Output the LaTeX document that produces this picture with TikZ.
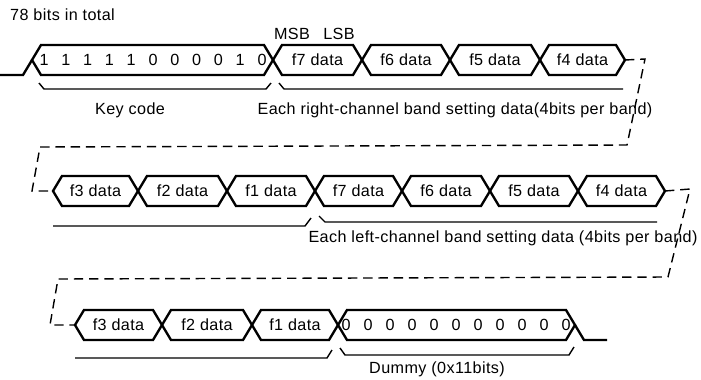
\documentclass[tikz,border=0pt]{standalone}
\usepackage{fontspec}
\setmainfont[LetterSpace=2.5]{Liberation Sans}
\usetikzlibrary{positioning}
\tikzset{
  every picture/.style={font=\fontsize{13.8}{16}\selectfont},
  bus/.style={draw=black, line width=2pt, line join=miter},
  brace/.style={draw=black, line width=1.2pt},
  link/.style={draw=black, line width=1.2pt, dash pattern=on 8pt off 5pt},
  cell/.style={inner sep=0pt},
  note/.style={inner sep=0pt},
}

\begin{document}
\begin{tikzpicture}[x=0.3mm, y=-0.3mm]
  \useasboundingbox (0,0) rectangle (701,379);
  \node[note, anchor=west] (total) at (10,15) {78 bits in total};
  \node[note] (msb) at (292,34) {MSB};
  \node[note] (lsb) at (339,34) {LSB};

  % first row: key code + right channel
  \def\y{60}
  \draw[bus] (0,75) -- (23,75) -- (32,\y);
  \foreach \a/\b/\t/\n in {32/273/{}/key, 273/362/f7 data/rf7, 362/450/f6 data/rf6, 450/540/f5 data/rf5, 540/625/f4 data/rf4} {
    \draw[bus] (\a,\y) -- (\a+9,\y-15) -- (\b-9,\y-15) -- (\b,\y) -- (\b-9,\y+15) -- (\a+9,\y+15) -- cycle;
    \node[cell] (\n) at ({(\a+\b)/2},\y) {\t};
  }
  \foreach \v [count=\i from 0] in {1,1,1,1,1,0,0,0,0,1,0}
    \node[cell] (k\i) at (44+21.8*\i,\y) {\v};
  \draw[brace] (39,83) -- (44,89) -- (266,89) -- (271,83);
  \draw[brace] (279,83) -- (284,89) -- (623,89);
  \node[note] (keylbl) at (130,110) {Key code};
  \node[note] (rightlbl) at (455,110) {Each right-channel band setting data(4bits per band)};

  % second row: left channel
  \coordinate (r1end) at (625,60);
  \coordinate (r2start) at (53,191);
  \draw[link] (r1end) -- (645,59) -- (627,145) -- (40,147) -- (32,191) -- (r2start);
  \def\y{191}
  \foreach \a/\b/\t/\n in {53/138/f3 data/rf3, 138/227/f2 data/rf2, 227/315/f1 data/rf1, 315/402/f7 data/lf7, 402/490/f6 data/lf6, 490/578/f5 data/lf5, 578/665/f4 data/lf4} {
    \draw[bus] (\a,\y) -- (\a+9,\y-15) -- (\b-9,\y-15) -- (\b,\y) -- (\b-9,\y+15) -- (\a+9,\y+15) -- cycle;
    \node[cell] (\n) at ({(\a+\b)/2},\y) {\t};
  }
  \draw[brace] (53,226) -- (305,226) -- (311,218);
  \draw[brace] (319,216) -- (325,222) -- (657,222);
  \node[note] (leftlbl) at (503,238) {Each left-channel band setting data (4bits per band)};

  % third row: left channel end + dummy
  \coordinate (r2end) at (665,191);
  \coordinate (r3start) at (75,325);
  \draw[link] (r2end) -- (690,189) -- (668,277) -- (58,279) -- (50,325) -- (r3start);
  \def\y{325}
  \foreach \a/\b/\t/\n in {75/162/f3 data/lf3, 162/252/f2 data/lf2, 252/338/f1 data/lf1, 338/575/{}/dummy} {
    \draw[bus] (\a,\y) -- (\a+9,\y-15) -- (\b-9,\y-15) -- (\b,\y) -- (\b-9,\y+15) -- (\a+9,\y+15) -- cycle;
    \node[cell] (\n) at ({(\a+\b)/2},\y) {\t};
  }
  \draw[bus] (575,\y) -- (584,340) -- (607,340);
  \foreach \i in {0,...,10}
    \node[cell] (d\i) at (346+22*\i,\y) {0};
  \draw[brace] (75,358) -- (327,358) -- (332,350);
  \draw[brace] (340,348) -- (345,355) -- (569,355) -- (574,347);
  \node[note] (dummylbl) at (437,369) {Dummy (0x11bits)};
\end{tikzpicture}
\end{document}
